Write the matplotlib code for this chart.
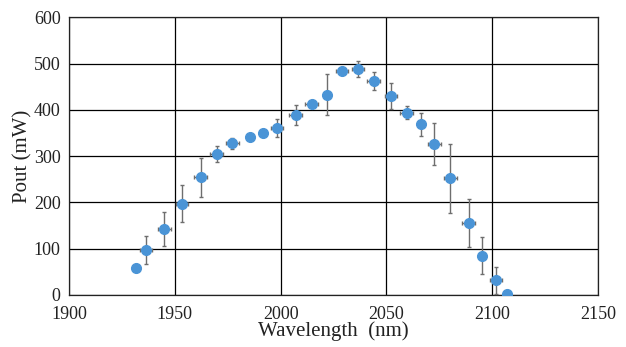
import matplotlib
matplotlib.use("Agg")
import matplotlib.pyplot as plt

plt.rcParams['font.family'] = ['Liberation Serif', 'DejaVu Serif']

# Measured output power versus wavelength
wavelength = [1931.8, 1936.4, 1945.0, 1953.4, 1962.2, 1969.8, 1977.2, 1985.5, 1991.5,
              1998.3, 2007.1, 2014.7, 2021.9, 2029.0, 2036.6, 2044.0, 2052.2, 2059.6,
              2066.4, 2072.7, 2080.2, 2088.9, 2095.3, 2101.8, 2107.0]
power = [59, 97, 143, 197, 254, 305, 328, 342, 351,
         361, 389, 413, 433, 483, 488, 462, 430, 394,
         369, 326, 252, 156, 85, 32, 2]
power_err = [0, 31, 37, 40, 43, 18, 12, 0, 0,
             20, 22, 0, 44, 0, 18, 20, 28, 14,
             25, 45, 74, 52, 40, 29, 0]
wavelength_err = [0, 3, 3, 3, 3, 3, 3, 0, 0,
                  3, 3, 3, 0, 3, 3, 3, 3, 3,
                  0, 3, 3, 3, 0, 3, 0]

x_ticks = [1900, 1950, 2000, 2050, 2100, 2150]
y_ticks = [0, 100, 200, 300, 400, 500, 600]

fig = plt.figure(figsize=(6.26, 3.47), dpi=100)
ax = fig.add_axes([0.1102, 0.1499, 0.8451, 0.8002])

ax.errorbar(wavelength, power, yerr=power_err, xerr=wavelength_err,
            fmt='o', color='#4a94d6', markersize=7, ecolor='#6e6e6e',
            elinewidth=1.0, capsize=1.5, capthick=1.0, zorder=3)

ax.set_xlim(1900, 2150)
ax.set_ylim(0, 600)
ax.set_xticks(x_ticks)
ax.set_yticks(y_ticks)
ax.grid(True, color='black', linewidth=0.9, zorder=0)
ax.set_axisbelow(True)
ax.tick_params(length=0, labelsize=13, colors='#222222')
ax.tick_params(axis='y', pad=6)
ax.tick_params(axis='x', pad=8)
for lbl in ax.get_yticklabels():
    lbl.set_verticalalignment('center_baseline')
for side in ax.spines.values():
    side.set_color('#222222')
    side.set_linewidth(0.9)

ax.set_xlabel('Wavelength  (nm)', fontsize=15, labelpad=-1, color='#222222')
ax.set_ylabel('Pout (mW)', fontsize=15, labelpad=1, color='#222222')

fig.savefig('out.png', dpi=100)
